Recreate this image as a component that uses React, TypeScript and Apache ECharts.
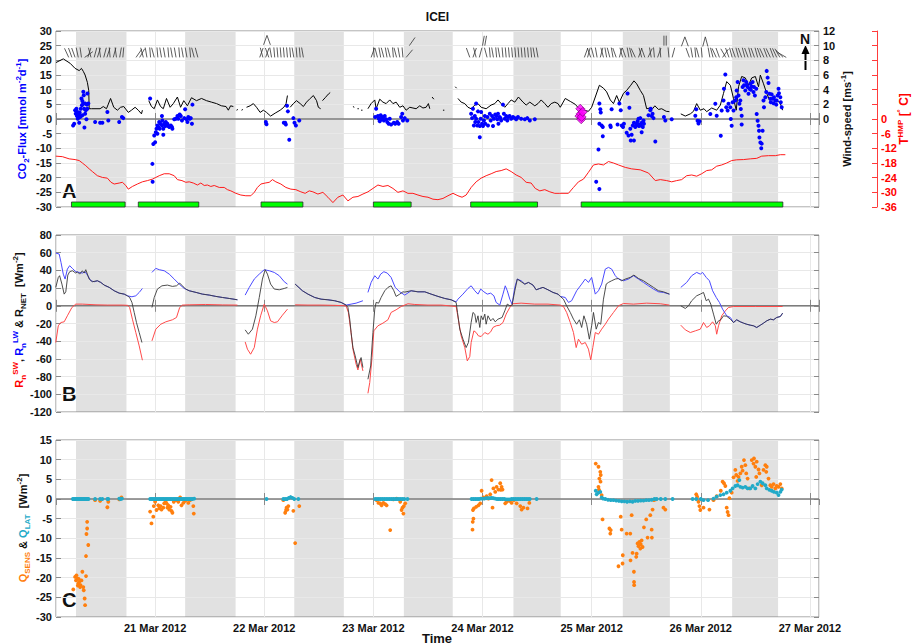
import React, { useEffect, useRef } from 'react';
import * as echarts from 'echarts';

// ---------- time base (hours since 20 Mar 2012 00:00 UTC) ----------
const HOUR_MS = 3600000;
const BASE_MS = Date.UTC(2012, 2, 20, 0, 0, 0);
const X_START_H = 2.2;
const X_END_H = 170.0;
const MONTHS = ['Jan', 'Feb', 'Mar', 'Apr', 'May', 'Jun', 'Jul', 'Aug', 'Sep', 'Oct', 'Nov', 'Dec'];

// grey day-time bands [start h, end h]
const DAY_BANDS = [[6.6, 17.7], [30.6, 41.7], [54.6, 65.5], [78.7, 89.45], [102.8, 113.2], [126.85, 137.2], [150.9, 161.0]];
// green measurement periods [start h, end h]
const GREEN_PERIODS = [[5.6, 17.4], [20.3, 33.6], [47.3, 56.5], [72.0, 80.3], [93.4, 108.1], [117.7, 162.05]];
const GREEN_TOP = -28.3;
const GREEN_BOTTOM = -30;

// wind direction sticks [h, angle deg (0 = up), base value on CO2 axis]
const WIND_DIR = [
  [5.0, -25, 21], [5.7, -20, 21], [6.4, -20, 21], [7.1, -12, 21], [7.8, -8, 21], [8.5, 55, 21], [9.2, 18, 21], [9.9, -15, 21], [10.6, 15, 21], [11.3, 18, 21], [12.0, -8, 21], [12.7, 15, 21], [13.4, 18, 21], [14.1, -5, 21], [14.8, 15, 21], [15.5, -8, 21], [16.2, 10, 21], [16.9, 5, 21],
  [19.8, 35, 21], [20.6, 30, 21], [21.4, -15, 21], [22.2, -10, 21], [23.0, -5, 21], [23.8, -15, 21], [24.6, -5, 21], [25.4, -10, 21], [26.2, -10, 21], [27.0, -5, 21], [27.8, -10, 21], [28.6, -10, 21], [29.4, -5, 21], [30.2, -10, 21], [31.0, -10, 21], [31.8, -5, 21], [32.6, -15, 21], [33.4, -15, 21],
  [47.0, 20, 21], [47.7, -15, 21], [48.6, 160, 28.5], [48.6, -160, 28.5], [48.3, 20, 21], [49.0, -20, 21], [49.6, -10, 21], [50.3, -5, 21], [51.0, -5, 21], [51.7, -5, 21], [52.4, -5, 21], [53.1, -5, 21], [53.8, -5, 21], [54.5, -10, 21], [55.2, -5, 21], [55.9, -5, 21], [56.6, -10, 21],
  [71.5, 20, 21], [72.2, -5, 21], [72.9, -15, 21], [73.6, -10, 21], [74.3, -15, 21], [75.0, -10, 21], [75.7, -15, 21], [76.4, -5, 21], [77.1, -15, 21], [77.8, -10, 21], [78.5, -5, 21], [79.2, 40, 21], [79.9, 35, 25],
  [93.2, -20, 21], [93.9, 20, 21], [94.6, -15, 21], [95.3, 15, 21], [96.0, 10, 25], [96.5, 10, 25], [97.0, -15, 21], [97.7, -5, 21], [98.4, -10, 21], [99.1, -5, 21], [99.8, -10, 21], [100.5, -5, 21], [101.2, -5, 21], [101.9, -5, 21], [102.6, -5, 21], [103.3, -5, 21], [104.0, -5, 21], [104.7, -5, 21], [105.4, -5, 21], [106.1, -5, 21], [106.8, -5, 21], [107.5, -10, 21], [108.2, -10, 21],
  [118.4, 20, 21], [119.1, 15, 21], [119.8, -20, 21], [120.5, -15, 21], [121.2, -10, 21], [121.9, 15, 21], [122.6, -15, 21], [123.3, -10, 21], [124.0, -15, 21], [124.7, -10, 21], [125.4, -20, 21], [126.1, 15, 21], [126.8, -15, 21], [127.5, -20, 21], [128.2, -10, 21], [128.9, -15, 21], [129.6, -25, 21], [130.3, 20, 21], [131.0, -15, 21], [131.7, -20, 21], [132.4, 25, 21], [133.1, -10, 21], [133.8, -5, 21], [134.5, 20, 21], [135.2, -5, 21], [135.9, 0, 25], [136.4, 0, 25], [137.0, -5, 21], [137.7, 15, 21],
  [140.5, 160, 28], [140.5, -160, 28], [141.5, -20, 21], [142.2, -10, 21], [142.9, -5, 21], [143.6, -15, 21], [144.3, -5, 21], [145.0, 165, 28], [145.0, -165, 28], [146.0, -10, 21], [146.7, -15, 21], [147.4, -25, 21], [148.1, -20, 21], [148.8, 35, 21], [149.5, -30, 21], [150.2, -20, 21], [150.9, -15, 21], [151.6, -20, 21], [152.3, -15, 21], [153.0, -20, 21], [153.7, -15, 21], [154.4, -20, 21], [155.1, -15, 21], [155.8, -20, 21], [156.5, -15, 21], [157.2, -20, 21], [157.9, -25, 21], [158.6, -20, 21], [159.3, -25, 21], [160.0, -20, 21], [160.7, -25, 21], [161.4, -30, 21], [162.1, -45, 21], [162.8, -60, 21],
];

// wind speed [h, m/s] (null = gap)
const WIND_SPEED = [
  [2.2, 7.7], [3.8, 8.2], [5.3, 7.6], [6.4, 6.9], [7.3, 6.6], [7.8, 6.9], [8.2, 6.5], [8.6, 6.0], [9.1, 5.0], [9.4, 3.9], [9.5, 1.4], [10.0, 1.4], [11.9, 1.4], [12.6, 1.7], [13.3, 1.4], [14.2, 2.8], [14.9, 1.6], [15.7, 1.2], [16.4, 1.6], [17.1, 1.7], [18.1, 0.9], [18.8, 1.2], [19.6, 1.6], [20.3, 1.2], [21.0, 0.7], [21.2, 1.2],
  [21.9, null],
  [22.6, 2.5], [23.2, 1.7], [23.8, 1.4], [24.5, 2.6], [25.2, 1.7], [25.8, 1.4], [26.5, 2.8], [27.3, 1.6], [28.0, 2.1], [28.9, 3.0], [29.6, 1.6], [30.3, 2.5], [31.1, 1.8], [32.0, 2.9], [33.1, 2.5], [34.2, 2.8], [35.3, 2.5], [36.4, 2.3], [37.5, 2.1], [38.6, 1.8], [39.6, 1.7], [40.1, 1.2], [40.6, 1.8], [41.2, 1.7],
  [41.5, null], [41.9, 1.2], [42.2, 1.3], [42.6, null], [43.0, 1.2], [43.3, 1.3], [43.7, null],
  [44.1, 1.6], [44.9, 1.8], [45.6, 2.1], [46.3, 1.6], [47.1, 0.9], [47.8, 1.2], [48.5, 0.9], [49.4, 0.4], [50.4, 0.8], [51.5, 1.2], [52.3, 1.6], [52.8, 2.1], [53.1, 3.2],
  [53.4, null],
  [53.7, 1.6], [54.4, 2.1], [55.1, 2.5], [55.9, 2.1], [56.6, 1.7], [57.3, 2.3], [58.1, 2.8], [58.8, 3.2], [59.5, 2.5], [59.9, 1.6], [60.4, 1.4],
  [60.6, null],
  [60.8, 2.5], [61.4, 2.9], [62.1, 3.4], [62.5, 3.6],
  [65.0, null], [67.5, 1.7], [67.8, 1.6], [68.1, null], [68.5, 1.4], [68.8, 1.4], [69.0, null], [69.3, 1.2], [69.6, 1.2], [70.2, null],
  [70.8, 1.4], [71.5, 2.1], [72.3, 2.6], [72.6, 1.4], [73.4, 2.7], [74.1, 2.3], [74.8, 2.1], [75.6, 2.6], [76.3, 2.1], [77.0, 2.3], [77.8, 1.6], [78.5, 1.8], [79.2, 1.2], [80.0, 1.6], [80.7, 1.5], [81.4, 1.4], [82.2, 1.8], [82.9, 1.5], [83.6, 1.6], [84.1, 2.1], [84.4, 1.4],
  [84.6, null], [84.9, 3.0], [85.3, 2.7], [85.6, null], [87.3, 1.2], [87.6, 1.2], [87.8, null], [90.0, 4.4], [90.3, 4.2], [90.4, null],
  [90.6, 2.8], [91.3, 2.3], [92.1, 2.1], [92.8, 1.6], [93.5, 1.4], [94.3, 1.9], [95.0, 2.1], [95.7, 1.6], [96.8, 1.4], [97.9, 1.9], [98.7, 2.1], [99.4, 2.6], [100.1, 2.1], [100.9, 1.6], [101.6, 2.1], [102.3, 2.6], [103.1, 2.3], [103.9, 3.0], [104.9, 2.3], [105.6, 1.9], [106.4, 2.3], [107.5, 1.8], [108.2, 2.1], [108.9, 2.6], [109.7, 2.1], [110.4, 1.6], [111.1, 2.1], [111.9, 2.3], [112.6, 2.1],
  [113.1, 1.6], [114.2, 2.8], [115.3, 2.4], [116.4, 2.0], [117.1, 1.5], [118.2, 1.2], [119.3, 1.05], [120.0, 1.6], [120.8, 3.0], [121.7, 4.6], [122.6, 4.2], [123.3, 3.7], [124.1, 2.6], [124.8, 2.1], [125.5, 3.2], [126.1, 2.3], [127.0, 3.5], [127.7, 3.9], [128.6, 4.6], [129.3, 5.2], [129.9, 4.8], [130.7, 3.9], [131.4, 3.2], [132.1, 1.4], [132.9, 1.5], [133.4, 1.4], [133.9, 1.8], [134.7, 1.3], [135.4, 1.4], [136.4, 1.05], [137.1, 1.0],
  [138.3, null],
  [139.6, 0.7], [140.6, 0.4], [141.7, 0.7], [142.4, 1.05], [143.1, 2.1], [143.9, 1.2], [144.7, 1.4], [145.3, 1.0], [146.4, 1.5], [147.5, 1.2], [148.3, 1.9], [149.0, 3.5], [149.7, 5.1], [150.5, 4.6], [151.2, 2.8], [151.8, 1.2], [152.3, 4.4], [153.0, 5.8], [153.8, 5.6], [154.5, 4.6], [155.2, 5.6], [156.0, 5.8], [156.7, 4.4], [157.1, 6.0], [157.8, 4.8], [158.5, 3.5], [159.1, 2.6], [160.0, 2.8], [160.7, 2.6], [161.5, 2.1], [162.0, 1.2],
];

// air temperature T_HMP [h, deg C]
const TEMP = [
  [2.15, -15.2], [3.6, -15.4], [5.1, -16.3], [6.4, -16.6], [7.3, -17.0], [8.0, -18.0], [8.75, -19.1], [9.5, -20.4], [10.2, -21.5], [11.3, -23.2], [12.4, -23.9], [13.5, -24.2], [14.3, -25.9], [15.0, -26.6], [16.1, -26.2], [16.8, -25.9], [17.55, -27.2], [18.1, -28.7], [19.0, -27.6], [20.1, -26.6], [21.2, -25.7], [22.3, -25.2], [23.4, -24.6], [24.15, -23.9], [24.9, -23.2], [26.0, -22.4], [27.1, -22.4], [28.2, -23.2], [28.9, -24.8], [29.9, -25.2], [30.75, -25.9], [31.5, -25.7], [32.4, -26.2], [33.3, -27.0], [34.05, -26.2], [34.8, -27.2], [35.5, -27.0], [36.25, -27.6], [37.0, -27.2], [38.1, -28.0], [39.2, -28.0], [39.9, -28.9], [40.65, -29.4], [41.75, -30.4], [42.85, -31.1], [43.95, -31.4], [45.05, -31.4], [45.8, -30.0], [46.5, -28.0], [47.25, -26.6], [48.2, -26.2], [49.1, -25.9], [49.8, -24.8], [50.55, -25.7], [51.65, -26.6], [52.75, -28.0], [53.85, -28.7], [54.95, -28.9], [56.05, -29.8], [57.0, -30.4], [57.9, -29.4], [58.7, -29.8], [59.8, -30.7], [60.9, -30.0], [62.0, -32.0], [63.1, -34.2], [64.2, -32.0], [65.3, -31.1], [66.4, -33.5], [67.5, -32.0], [68.6, -31.7], [69.7, -30.7], [70.8, -29.8], [71.9, -28.4], [73.0, -27.0], [74.1, -27.6], [75.2, -27.2], [76.3, -28.4], [77.4, -30.0], [78.5, -29.4], [79.6, -30.4], [80.7, -30.4], [81.8, -31.1], [82.9, -31.7], [84.0, -32.0], [85.1, -32.8], [86.2, -33.0], [87.3, -32.5], [88.4, -31.4], [89.5, -30.4], [90.6, -31.4], [91.5, -32.0], [92.4, -31.1], [93.5, -28.0], [94.6, -25.7], [95.7, -24.2], [96.8, -23.2], [97.9, -22.4], [99.0, -21.5], [100.1, -21.1], [101.2, -20.4], [102.3, -21.5], [103.4, -22.9], [104.5, -23.9], [105.6, -25.9], [106.7, -26.2], [107.6, -28.4], [108.6, -29.4], [109.7, -28.9], [110.8, -29.8], [111.9, -30.4], [113.0, -30.4], [114.9, -30.4], [116.0, -28.0], [117.1, -25.7], [118.2, -24.6], [119.3, -21.8], [120.4, -18.8], [121.5, -18.4], [122.6, -18.8], [123.7, -17.4], [124.8, -18.0], [125.9, -18.8], [127.4, -19.8], [128.8, -20.4], [130.7, -20.8], [132.5, -22.1], [134.0, -25.2], [135.1, -24.8], [136.5, -25.2], [137.6, -25.7], [138.7, -25.2], [139.8, -24.8], [140.9, -23.2], [142.0, -22.9], [143.1, -23.4], [144.2, -22.4], [145.3, -21.1], [146.4, -20.8], [147.5, -19.3], [148.6, -18.8], [149.7, -18.0], [150.8, -17.0], [151.9, -16.7], [153.4, -16.6], [154.9, -16.3], [156.3, -16.1], [157.4, -15.2], [158.9, -15.0], [160.4, -15.0], [161.5, -14.6], [162.6, -14.6],
];

// CO2 flux [h, mmol m-2 d-1]
const CO2_FLUX = [
  [5.96, -2.2], [6.2, -1.6], [6.4, 3.0], [6.55, 1.8], [6.7, 3.5], [6.8, 1.0], [6.9, 2.4], [7.0, 0.1], [7.1, 1.5], [7.3, 0.7], [7.3, -1.3], [7.4, 2.2], [7.5, 0.7], [7.65, 3.5], [7.7, 1.0], [7.8, 7.0], [7.9, 4.7], [8.0, 6.1], [8.0, 1.3], [8.2, 9.3], [8.2, 5.3], [8.3, 8.1], [8.4, 3.5], [8.45, -2.9], [8.6, 5.3], [8.6, 1.8], [8.75, 3.0], [8.9, -0.1], [9.0, 4.9], [9.1, 8.7], [9.1, 3.5], [9.3, 5.3],
  [10.8, -1.0], [11.9, -1.3], [12.4, -1.3], [13.5, 2.4], [13.7, -0.5], [16.1, -1.0], [16.7, 0.7], [17.0, 0.3],
  [22.9, 7.0], [23.4, -15.3], [23.45, -21.4], [23.6, -8.5], [23.8, -5.6], [24.0, -7.9], [24.15, -4.5], [24.3, -3.3], [24.5, -2.2], [24.5, -5.0], [24.7, -2.7], [24.9, -1.0], [25.0, -3.3], [25.2, -1.6], [25.5, 1.0], [25.5, -2.2], [25.6, -0.5], [25.8, -3.3], [25.8, -5.4], [26.0, -1.6], [26.2, -2.4], [26.35, -1.0], [26.5, -2.2], [26.7, -1.6], [26.9, -2.4], [27.1, -2.7], [27.45, -2.2], [27.7, -2.7], [27.8, -3.3], [28.2, -0.1], [28.55, 0.1], [28.9, 1.0], [29.1, 0.1], [29.4, 1.5], [29.65, 1.0], [29.9, -0.5], [30.4, 0.3], [30.6, 3.3], [30.9, -0.1], [31.1, -1.0], [31.3, 0.7], [31.6, 0.1], [31.85, 0.3], [32.1, -1.6], [32.2, 4.9],
  [48.35, -1.0], [48.5, -1.8], [52.3, -1.3], [52.6, -1.3], [52.75, -1.9], [53.0, 4.5], [53.2, 2.6], [53.5, -7.1], [54.4, 0.3], [54.65, -1.3], [54.95, -2.2], [55.7, -0.5],
  [72.4, 0.7], [72.6, 3.5], [73.0, 1.0], [73.2, 0.1], [73.4, -0.8], [73.6, 1.3], [73.7, -0.1], [73.9, 0.7], [74.1, 0.3], [74.3, -0.5], [74.5, 1.0], [74.8, -0.1], [75.05, -1.0], [75.35, -1.6], [75.6, 0.1], [75.9, -1.9], [76.5, -1.3], [76.8, -1.6], [77.25, -1.0], [77.55, -1.6], [78.1, 0.7], [78.35, 1.8], [78.5, -0.5], [78.9, 0.3], [79.45, -0.5],
  [93.5, 1.8], [93.7, 0.3], [93.9, 3.5], [94.1, -2.2], [94.3, 1.0], [94.4, -1.0], [94.6, 5.3], [94.6, 0.1], [94.85, -2.2], [95.0, 2.6], [95.1, -1.0], [95.4, -6.2], [95.4, -2.4], [95.6, 0.1], [95.7, 2.4], [95.9, -1.6], [96.1, -2.4], [96.3, -0.5], [96.5, 1.0], [96.6, -1.6], [97.1, 0.7], [97.2, -2.2], [97.6, 1.8], [97.8, -0.5], [98.1, 1.0], [98.3, -2.4], [98.5, 0.1], [98.8, 1.5], [99.0, 1.0], [99.25, -0.1], [99.4, 1.8], [99.5, -1.6], [99.75, 0.7], [99.95, 0.3], [100.1, -0.5], [100.5, 4.9], [100.7, 1.8], [100.9, 0.1], [101.2, 1.0], [101.45, -0.5], [101.6, 0.7], [101.95, 1.0], [102.3, 0.1], [102.7, 0.7], [103.1, 0.3], [103.4, -0.1], [103.8, 0.7], [104.5, 0.1], [105.3, -0.1], [105.85, 0.3], [106.4, -0.5], [107.5, -0.1],
  [121.0, -21.4], [121.7, -23.9], [121.5, -10.4], [121.7, 5.3], [121.9, 3.3], [122.0, 2.2], [121.7, -1.6], [122.2, -2.2], [122.45, -2.7], [122.45, -5.9], [124.1, -2.2], [124.2, -2.7], [124.4, 3.3], [125.7, -1.9], [126.1, 5.3], [126.4, 3.0], [126.6, -2.2], [126.9, -2.7], [127.1, -1.6], [127.7, -4.7], [127.9, 8.7], [128.1, -5.6], [128.3, 3.8], [128.5, -3.3], [128.6, -7.3], [128.8, -5.4], [129.05, -2.2], [129.3, -7.3], [129.3, -1.3], [129.6, -2.7], [129.8, -2.2], [129.9, -1.6], [130.1, -0.8], [130.3, 0.1], [130.4, -2.4], [130.5, -1.9], [130.7, 0.3], [130.8, -2.2], [131.0, -4.5], [131.0, -1.3], [131.25, -2.7], [131.4, -0.5], [131.5, -1.6], [132.5, 1.3], [132.9, 3.0], [133.0, 3.5], [133.2, 1.0], [133.4, 1.8], [133.6, 0.3], [134.0, -7.7], [135.9, 0.7], [136.2, -0.5], [137.6, -0.1],
  [142.8, 1.1], [143.0, 3.3], [143.3, -0.6], [143.5, -1.5], [143.7, -0.8], [146.1, 1.7], [147.2, 5.2], [147.5, 1.1], [148.4, -5.7], [148.6, 2.9], [149.0, 6.3], [149.1, 10.3], [149.4, 15.2], [149.6, 4.0], [149.9, 2.9], [150.1, 5.2], [150.5, 4.0], [150.6, 0.0], [150.8, -2.3], [151.0, 5.7], [151.2, 2.9], [151.6, 6.3], [151.8, 7.4], [151.9, 9.7], [152.1, 12.6], [152.3, 8.0], [152.5, 5.2], [152.7, 6.3], [152.8, 3.4], [153.0, 1.1], [153.0, -1.9], [153.2, 10.9], [153.4, 13.2], [153.5, 11.5], [153.8, 9.7], [154.0, 12.6], [154.1, 11.5], [154.3, 10.9], [154.5, 8.6], [154.7, 10.3], [154.9, 12.0], [155.0, 10.0], [155.2, 11.1], [155.4, 12.6], [155.6, 9.2], [155.7, 10.9], [155.9, 8.0], [156.2, 10.3], [156.3, 1.7], [156.5, -0.6], [156.7, -2.3], [156.8, -4.0], [156.9, -6.3], [157.1, -8.0], [157.3, -10.0], [157.4, -8.4], [157.6, -4.0], [157.8, 6.3], [157.9, 4.0], [158.2, 7.4], [158.4, 9.2], [158.5, 16.4], [158.7, 14.1], [158.9, 12.3], [159.1, 8.6], [159.3, 6.9], [159.4, 5.7], [159.6, 8.4], [159.8, 6.9], [160.0, 5.4], [160.1, 7.4], [160.4, 6.3], [160.6, 4.9], [160.7, 6.3], [160.9, 8.0], [161.1, 10.3], [161.2, 8.8], [161.5, 7.4], [161.6, 5.7], [161.8, 4.0],
];

// magenta diamonds (CO2 flux, flagged)
const CO2_FLAGGED = [[117.3, 1.0], [117.5, 3.5], [117.6, 1.8], [117.7, -0.1], [117.8, 0.7], [118.05, 2.4]];

// net shortwave radiation R_n^SW [h, W m-2]
const R_SW = [
  [2.15, -41.5], [2.7, -22.6], [3.25, -18.9], [4.0, -18.1], [4.7, -11.3], [5.7, -1.9], [6.55, 1.9], [8.0, 1.9], [11.0, 1.1], [13.5, 0.8], [16.8, 0.8], [18.0, 0.5], [18.4, -1.9], [19.0, -15.1], [19.75, -30.2], [20.5, -45.3], [21.2, -61.5],
  [22.2, null],
  [23.3, -39.6], [24.15, -26.4], [25.25, -20.8], [26.35, -18.1], [27.8, -15.8], [28.7, -13.2], [29.4, -1.9], [30.0, 0.8], [31.5, 1.1], [35.1, 1.5], [38.8, 1.0], [42.1, 0.8],
  [43.0, null],
  [43.8, -40.8], [44.3, -49.0], [45.0, -54.7], [45.8, -47.2], [46.5, -26.4], [47.2, -11.3], [48.0, 1.9], [48.7, -5.7], [49.4, -17.0], [50.2, -18.9], [50.9, -18.1], [52.0, -10.6], [53.1, -3.8],
  [54.0, null],
  [54.8, 1.1], [57.6, 0.8], [60.5, 0.8], [63.5, 0.5], [66.0, 0], [66.5, -7.5], [67.0, -26.4], [67.5, -49.0], [68.2, -66.0], [68.6, -72.5], [69.1, -60.4], [69.7, -73.6],
  [70.3, null],
  [70.8, -98.9], [71.2, -86.8], [71.7, -58.5], [72.1, -28.3], [73.0, -22.6], [74.1, -19.6], [75.2, -15.8], [75.9, -7.5], [77.0, -4.5], [78.1, -0.8], [79.6, 2.3], [81.1, 1.5], [84.0, 0.8], [87.0, 0.8], [90.2, -0.8], [90.7, -15.8], [91.3, -34.0], [92.1, -47.2], [92.65, -62.3], [93.2, -57.4], [93.5, -41.5], [94.1, -28.3], [94.6, -30.2], [95.1, -34.0], [95.7, -34.7], [96.5, -30.2], [97.2, -32.1], [97.8, -29.4], [98.3, -24.5], [99.0, -22.6], [99.8, -21.9], [100.5, -18.9], [101.2, -9.4], [102.0, -1.9], [102.7, 2.3], [104.5, 3.0], [107.5, 1.9], [110.4, 1.9], [113.1, 0.8], [113.8, -0.8], [114.5, -7.5], [115.3, -18.9], [116.0, -30.2], [116.6, -47.2], [117.1, -37.7], [117.8, -43.4], [118.6, -41.5], [119.3, -49.0], [119.8, -61.1], [120.25, -47.2], [120.8, -30.2], [121.5, -32.1], [122.2, -26.4], [123.0, -20.8], [123.7, -15.1], [124.8, -7.5], [125.9, 0], [127.0, 2.6], [129.2, 1.9], [132.1, 3.0], [135.1, 2.3], [137.1, 0.8],
  [138.3, null],
  [139.6, -21.9], [140.6, -27.2], [141.7, -30.2], [142.8, -28.3], [143.9, -26.4], [144.6, -18.9], [145.3, -24.5], [145.9, -22.6], [146.6, -18.1], [147.2, -22.6], [147.5, -32.1], [147.9, -22.6], [148.6, -11.3], [149.4, -5.7], [150.1, -1.9], [151.2, -0.8], [156.0, -0.8], [162.0, -0.8],
];

// net longwave radiation R_n^LW [h, W m-2]
const R_LW = [
  [2.15, 59.6], [2.9, 58.5], [3.3, 49.0], [3.8, 35.8], [4.2, 30.2], [4.7, 41.5], [5.2, 45.3], [5.8, 42.3], [6.55, 38.5], [7.3, 37.7], [8.0, 37.0], [8.6, 38.5], [9.1, 34.7], [9.85, 28.3], [10.6, 27.2], [11.3, 28.3], [12.05, 26.4], [12.8, 23.4], [13.9, 20.8], [15.0, 17.0], [16.1, 14.3], [17.2, 13.2], [17.9, 11.3], [18.9, 10.2], [19.75, 11.3], [20.5, 15.1], [21.2, 19.6],
  [22.2, null],
  [23.3, 37.7], [24.15, 42.3], [24.9, 40.8], [26.0, 39.6], [27.1, 35.8], [28.2, 30.2], [29.3, 24.5], [30.4, 19.6], [31.5, 17.0], [33.0, 15.1], [34.4, 13.2], [35.9, 12.1], [37.35, 10.6], [38.8, 9.4], [40.3, 8.3], [42.1, 6.8],
  [43.0, null],
  [43.8, 12.1], [44.7, 20.8], [45.8, 30.2], [46.9, 35.8], [48.0, 40.8], [49.1, 39.6], [50.2, 37.7], [51.3, 34.0], [52.4, 27.2], [53.1, 24.5],
  [54.0, null],
  [54.8, 24.5], [56.4, 17.0], [57.6, 13.2], [59.1, 9.4], [60.5, 7.5], [62.0, 6.8], [63.5, 5.7], [64.9, 3.8], [66.0, 0.8], [67.1, 1.9], [68.2, 3.0], [69.7, 5.7],
  [70.3, null],
  [70.8, 15.1], [71.5, 26.4], [72.3, 34.0], [73.0, 30.2], [73.6, 35.8], [74.3, 38.5], [75.05, 37.0], [75.9, 32.1], [76.8, 20.8], [77.8, 15.8], [78.9, 12.1], [80.3, 17.0], [81.8, 15.8], [83.3, 15.8], [84.7, 13.2], [86.2, 10.6], [87.7, 8.3], [89.1, 6.8], [90.2, 4.5], [90.6, 7.5], [91.7, 13.2], [92.8, 19.6], [93.5, 22.6], [94.3, 17.0], [95.0, 13.2], [95.6, 18.9], [96.3, 15.8], [97.05, 13.2], [97.8, 14.3], [98.5, 11.3], [99.0, 3.8], [99.8, 0.8], [100.5, 13.2], [101.0, 22.6], [101.45, 17.0], [102.0, 7.5], [102.5, 1.9], [103.1, 20.8], [103.65, 30.2], [104.5, 28.3], [105.3, 24.5], [106.1, 26.4], [107.1, 23.4], [107.8, 18.1], [108.6, 19.6], [109.3, 20.8], [110.4, 18.1], [111.5, 15.1], [112.6, 13.2], [113.1, 10.6], [114.2, 9.4], [114.9, 3.8], [115.6, 5.7], [116.7, 17.0], [117.8, 24.5], [118.6, 30.2], [119.3, 26.4], [120.0, 32.1], [120.8, 13.2], [121.5, 17.0], [122.2, 24.5], [123.0, 41.5], [123.7, 43.4], [124.4, 41.5], [125.2, 34.0], [125.9, 30.2], [127.0, 28.3], [128.1, 30.2], [129.2, 34.0], [130.3, 30.2], [131.4, 26.4], [132.5, 22.6], [133.6, 18.9], [134.7, 15.8], [135.8, 15.1], [137.1, 13.2],
  [138.3, null],
  [139.6, 20.8], [140.9, 26.4], [142.0, 34.0], [143.1, 37.7], [143.9, 35.8], [144.4, 37.7], [145.2, 32.1], [145.9, 28.3], [146.6, 17.0], [147.4, 9.4], [148.1, 3.8], [148.8, -3.8], [149.7, -11.3], [150.5, -13.2], [151.2, -18.9], [151.9, -15.8], [152.7, -18.1], [153.4, -19.6], [154.1, -20.8], [154.9, -21.9], [155.6, -22.6], [156.3, -24.5], [157.1, -21.9], [157.8, -19.6], [158.5, -17.0], [159.3, -15.1], [160.0, -15.8], [160.7, -13.2], [161.5, -12.1], [162.0, -8.3],
];

// net radiation R_NET [h, W m-2]
const R_NET = [
  [2.15, 20.8], [2.7, 32.0], [3.0, 34.0], [3.5, 24.5], [4.0, 13.2], [4.35, 15.8], [4.8, 34.7], [5.2, 38.5], [5.8, 39.6], [6.55, 37.0], [6.9, 38.5], [7.4, 35.8], [8.0, 39.6], [8.4, 37.0], [8.75, 40.8], [9.5, 30.2], [10.2, 27.2], [11.3, 28.3], [12.05, 26.4], [12.8, 23.4], [13.9, 20.8], [15.0, 17.0], [16.1, 14.3], [17.2, 13.2], [17.9, 11.3], [18.4, 9.4], [18.9, 3.8], [19.4, -7.5], [19.9, -18.9], [20.5, -30.2], [21.1, -41.5],
  [22.2, null],
  [23.3, -1.9], [23.8, 9.4], [24.5, 18.9], [25.5, 22.6], [26.7, 23.4], [27.8, 21.9], [28.7, 22.6], [29.4, 25.7], [30.0, 22.6], [30.7, 19.0], [31.5, 17.0], [33.0, 15.1], [34.4, 13.2], [35.9, 12.1], [37.35, 10.6], [38.8, 9.4], [40.3, 8.3], [42.1, 6.8],
  [43.0, null],
  [43.8, -27.2], [44.5, -32.1], [45.4, -26.4], [46.15, -11.3], [46.9, 9.4], [47.6, 30.2], [48.2, 40.8], [48.7, 35.8], [49.4, 24.5], [50.2, 18.9], [51.3, 18.1], [52.4, 19.6], [53.1, 20.8],
  [54.0, null],
  [54.8, 24.5], [56.4, 17.0], [57.6, 13.2], [59.1, 9.4], [60.5, 7.5], [62.0, 6.8], [63.5, 5.7], [64.9, 3.8], [66.0, 0.8], [66.4, -1.9], [66.8, -15.1], [67.1, -30.2], [67.5, -47.2], [68.0, -56.6], [68.6, -69.8], [69.0, -62.3], [69.3, -58.5], [69.7, -69.8],
  [70.3, null],
  [70.8, -83.0], [71.4, -68.0], [71.9, -30.2], [72.3, -3.8], [72.6, 3.8], [73.15, 3.0], [73.7, 9.4], [74.5, 17.0], [75.2, 20.8], [75.9, 22.6], [76.5, 17.0], [77.0, 10.6], [77.8, 13.2], [78.5, 15.8], [78.9, 15.5], [80.3, 17.0], [81.8, 15.8], [83.3, 15.8], [84.7, 13.2], [86.2, 10.6], [87.7, 8.3], [89.1, 6.8], [90.2, 3.8], [90.5, -7.5], [91.0, -26.4], [91.7, -37.7], [92.4, -47.2], [92.9, -41.5], [93.5, -18.9], [93.9, -7.5], [94.3, -9.4], [94.6, -18.9], [95.0, -11.3], [95.4, -24.5], [95.7, -11.3], [96.1, -15.8], [96.5, -9.4], [96.8, -20.8], [97.2, -11.3], [97.8, -17.0], [98.3, -14.3], [98.8, -18.1], [99.4, -15.1], [100.3, -13.2], [100.9, -5.7], [101.45, 1.9], [102.0, 0], [102.5, 0.8], [103.1, 17.0], [103.65, 30.2], [104.5, 27.2], [105.3, 24.5], [106.1, 26.4], [107.1, 23.4], [107.8, 18.1], [108.6, 19.6], [109.3, 20.8], [110.4, 18.1], [111.5, 15.1], [112.6, 13.2], [113.1, 10.6], [113.8, 7.5], [114.5, 0], [115.3, -7.5], [116.0, -15.1], [116.7, -20.8], [117.3, -15.8], [117.8, -24.5], [118.3, -11.3], [118.9, -20.8], [119.5, -37.7], [120.0, -22.6], [120.4, -7.5], [121.0, -26.4], [121.5, -18.9], [122.0, -20.8], [122.6, 7.5], [123.2, 24.5], [123.7, 26.4], [124.4, 28.3], [125.2, 30.2], [125.9, 30.9], [126.6, 28.3], [127.4, 30.2], [128.5, 32.1], [129.3, 34.7], [130.3, 30.9], [131.4, 28.3], [132.5, 24.5], [133.6, 20.8], [134.7, 17.0], [135.8, 15.8], [137.1, 13.2],
  [138.3, null],
  [139.6, 0], [140.6, -3.0], [141.3, 0], [142.0, 5.7], [143.1, 11.3], [143.9, 13.2], [144.6, 15.1], [145.2, 5.7], [145.7, 7.5], [146.2, 1.9], [146.8, -9.4], [147.4, -20.8], [147.9, -17.0], [148.4, -15.8], [149.0, -11.3], [149.7, -11.8], [150.5, -15.1], [151.2, -18.9], [151.9, -15.8], [152.7, -18.1], [153.4, -19.6], [154.1, -20.8], [154.9, -21.9], [155.6, -22.6], [156.3, -24.5], [157.1, -21.9], [157.8, -19.6], [158.5, -17.0], [159.3, -15.1], [160.0, -15.8], [160.7, -13.2], [161.5, -12.1], [162.0, -8.3],
];

// sensible heat flux Q_SENS [h, W m-2]
const Q_SENS = [
  [6.0, -23.0], [6.4, -19.8], [6.6, -20.7], [6.7, -19.4], [6.9, -20.2], [7.0, -22.0], [7.1, -21.5], [7.2, -20.3], [7.3, -21.1], [7.5, -22.4], [7.6, -21.9], [7.8, -20.7], [8.0, -18.5], [8.2, -22.4], [8.3, -23.2], [8.5, -25.3], [8.6, -27.0], [8.8, -19.6], [8.8, -14.5], [8.9, -8.9], [9.05, -7.5], [9.05, -5.8], [9.3, -11.7],
  [10.8, -0.3], [11.9, -0.5], [13.5, -2.1], [13.7, -0.7], [16.1, -0.1], [16.6, 0.4],
  [22.9, -3.2], [23.2, -6.2], [23.6, -4.5], [23.7, -1.8], [24.0, -0.7], [24.3, -2.8], [24.7, -1.6], [24.9, -2.4], [25.2, -1.8], [25.4, -2.7], [25.8, -2.2], [26.0, -1.1], [26.3, -0.7], [26.5, -1.1], [26.7, -2.2], [26.9, -1.6], [27.1, -2.7], [27.4, -2.0], [27.6, -3.0], [27.8, -3.5], [28.1, -0.7], [28.6, -0.3], [29.1, -0.7], [29.5, 0.4], [29.8, -1.6], [30.2, -1.0], [30.6, -0.5], [30.9, -0.1], [31.3, -1.0], [31.7, -0.3], [32.4, -1.8], [32.5, -3.7],
  [52.2, -0.3], [52.6, -3.5], [52.8, -2.8], [52.9, -2.2], [53.1, -2.7], [53.3, -1.8], [54.4, -3.0], [54.8, -11.2], [55.7, -1.8],
  [72.7, -0.3], [73.1, -1.0], [73.5, -1.1], [73.8, -1.6], [74.2, -1.0], [74.6, -1.3], [74.9, -1.6], [75.7, -7.9], [76.4, -0.1], [77.1, 0.1], [77.9, -0.7], [78.2, -2.8], [78.4, -2.2], [78.6, -3.7], [78.7, -1.8], [79.0, -1.1],
  [93.8, -7.8], [93.85, -5.8], [94.0, -5.0], [93.9, -2.8], [94.1, -2.4], [94.6, -2.0], [95.1, -1.6], [95.5, -1.1], [95.8, 2.1], [96.2, 0.4], [96.9, 0.7], [97.3, 0.1], [97.7, 1.2], [98.0, 4.8], [98.2, -2.2], [98.4, 2.7], [98.8, 1.8], [99.1, 3.1], [99.5, 2.4], [99.9, 4.0], [100.0, 2.3], [100.2, 3.1], [100.4, 2.4], [101.0, -1.1], [101.3, -0.7], [101.9, -0.5], [102.4, -1.0], [102.9, -0.3], [103.5, -1.1], [104.3, -1.8], [104.6, -2.7], [105.0, -2.2], [105.9, -2.4], [106.3, -1.0],
  [120.9, 9.0], [121.5, 8.2], [121.9, 6.9], [122.0, 6.1], [121.7, 5.2], [121.95, 4.4], [121.5, 3.1], [121.6, 2.4], [122.2, 1.0], [122.4, -5.2], [123.9, -7.5], [124.1, -8.8], [124.2, -7.9], [125.9, -17.1], [126.4, -4.5], [126.6, -7.8], [126.8, -16.4], [126.85, -14.3], [127.7, -8.8], [128.5, -8.8], [128.55, -15.6], [128.8, -4.1], [129.0, -13.7], [129.3, -18.5], [129.32, -21.1], [129.35, -21.9], [129.8, -14.7], [129.9, -13.9], [130.1, -11.3], [130.3, -12.0], [130.5, -10.9], [130.7, -12.6], [130.8, -11.5], [131.0, -10.5], [131.2, -12.2], [131.5, -7.2], [132.0, -5.2], [132.3, -9.8], [132.9, -4.1], [133.2, -7.8], [133.25, -9.8], [133.4, -2.7], [133.7, -0.3], [134.1, -0.1], [135.8, -2.2], [136.2, -2.7],
  [143.0, 1.2], [143.2, 0.6], [143.5, -0.7], [143.7, -1.8], [143.9, -2.8], [144.6, -2.2], [145.9, -2.7], [146.8, -0.3], [147.5, 0.7], [148.4, 2.1], [148.8, 4.4], [149.1, 4.0], [149.4, 3.3], [149.7, -2.2], [149.9, -3.3], [150.1, -4.1], [150.3, 0.2], [150.8, 1.6], [151.2, 5.5], [151.6, 7.4], [151.8, 6.1], [152.1, 4.6], [152.3, 5.6], [152.7, 6.5], [153.0, 8.2], [153.2, 7.2], [153.5, 9.9], [153.8, 8.6], [154.0, 6.5], [154.3, 5.2], [154.7, 2.7], [155.2, 9.9], [155.6, 9.0], [155.7, 10.3], [156.0, 8.2], [156.2, 5.6], [156.3, 9.5], [156.7, 7.5], [156.9, 6.5], [157.4, 3.5], [157.8, 7.4], [158.2, 8.6], [158.4, 6.9], [158.5, 8.2], [158.9, 5.2], [159.3, 3.5], [159.6, 3.1], [160.0, 3.8], [160.4, 2.7], [160.7, 3.3], [161.1, 3.1], [161.5, 3.8], [161.8, 2.7],
];

// latent heat flux Q_LAT [h, W m-2]
const Q_LAT = [
  [5.9, 0], [6.15, 0], [6.4, 0], [6.65, 0], [6.9, 0], [7.15, 0], [7.4, 0], [7.65, 0], [7.9, 0], [8.15, 0], [8.4, 0], [8.65, 0], [8.9, 0], [9.15, 0], [9.35, 0],
  [10.8, 0], [11.9, 0], [12.4, 0], [13.5, 0], [13.7, 0], [16.1, 0.1], [16.4, 0], [16.7, 0.1],
  [22.9, 0], [23.2, 0], [23.5, 0], [23.8, 0], [24.1, 0], [24.4, 0], [24.7, 0], [25.0, 0], [25.3, 0], [25.6, 0], [25.9, 0], [26.2, 0], [26.5, 0], [26.8, 0], [27.1, 0], [27.4, 0], [27.7, 0], [28.0, 0], [28.3, 0], [28.6, 0], [28.9, 0], [29.2, 0], [29.5, 0], [29.8, 0], [30.1, 0], [30.4, 0], [30.7, 0], [31.0, 0], [31.3, 0], [31.6, 0], [31.9, 0], [32.2, 0], [32.6, 0.1],
  [48.5, 0], [52.2, 0], [52.6, 0], [53.0, 0], [53.4, 0.3], [53.8, 0.5], [54.2, 0.3], [54.6, 0], [55.5, 0],
  [72.4, 0], [72.8, 0], [73.2, 0], [73.6, 0], [74.0, 0], [74.4, 0], [74.8, 0], [75.2, 0], [75.6, 0], [76.0, 0], [76.4, 0], [76.8, 0], [77.2, 0], [77.6, 0], [78.0, 0], [78.4, 0], [78.8, 0], [79.5, 0],
  [93.6, 0], [94.0, 0], [94.4, 0], [94.8, 0], [95.2, 0], [95.6, 0.1], [96.0, 0.1], [96.4, 0.1], [96.8, 0.2], [97.2, 0.2], [97.6, 0.2], [98.0, 0.3], [98.4, 0.2], [98.8, 0.1], [99.2, 0], [99.6, 0], [100.0, 0], [100.4, 0], [100.8, 0], [101.2, -0.1], [101.6, -0.1], [102.0, -0.1], [102.4, 0], [102.8, 0], [103.2, 0], [103.6, 0], [104.0, 0], [104.4, 0], [104.8, 0], [105.2, 0], [105.6, 0], [106.0, 0], [106.4, 0], [107.9, 0],
  [120.9, 2.1], [121.1, 1.2], [121.5, 1.6], [121.9, 1.8], [122.2, 0.4], [122.5, 0.1], [123.0, 0], [123.6, -0.2], [124.2, -0.3], [124.8, -0.3], [125.4, -0.4], [126.0, -0.5], [126.6, -0.6], [127.2, -0.6], [127.8, -0.7], [128.4, -0.6], [129.0, -0.7], [129.6, -0.5], [130.2, -0.5], [130.8, -0.4], [131.4, -0.4], [132.0, -0.3], [132.6, -0.3], [133.2, -0.2], [133.8, 0], [134.3, 0], [135.2, 0], [136.2, 0], [137.8, 0],
  [142.2, 0], [143.0, 0], [144.0, 0], [144.6, -0.3], [145.6, -0.3], [146.8, 0.1], [147.5, 0.6], [148.3, 1.0], [149.0, 1.2], [149.7, 1.6], [150.5, 2.1], [151.0, 2.7], [151.6, 3.3], [152.1, 3.5], [152.5, 4.8], [152.7, 3.1], [153.2, 2.9], [153.8, 3.1], [154.3, 2.7], [154.9, 2.7], [155.4, 3.3], [156.0, 2.7], [156.5, 3.8], [157.1, 4.4], [157.6, 4.0], [158.2, 3.5], [158.5, 2.7], [159.1, 2.3], [159.6, 2.1], [160.1, 1.8], [160.7, 1.6], [161.1, 1.0], [161.5, 1.8], [161.8, 2.4],
];

// ---------- helpers ----------
const FONT = "'Liberation Sans', Arial, Helvetica, sans-serif";
const GRID_LINE = '#e8e8e8';
const BAND_FILL = '#e1e1e1';
const BOX = '#8a8a8a';
const t = (h: number) => BASE_MS + h * HOUR_MS;
const pairs = (arr: any[]) => arr.map(([h, v]) => [t(h), v === null ? '-' : v]);

const dayLabel = (val: number) => {
  const d = new Date(val);
  if (d.getUTCHours() !== 0 || d.getUTCMinutes() !== 0) return '';
  return `${d.getUTCDate()} ${MONTHS[d.getUTCMonth()]} ${d.getUTCFullYear()}`;
};

const tickLabel = { fontFamily: FONT, fontWeight: 'bold', fontSize: 11, color: '#111' };

const rs = (color: string, size: number, va: string) => ({
  fill: color, color, fontSize: size, fontWeight: 'bold', fontFamily: FONT,
  lineHeight: size < 10 ? 8 : 16, verticalAlign: va,
});

const rotText = (x: number, y: number, text: string, rich: any) => ({
  type: 'text', x, y, rotation: Math.PI / 2, silent: true,
  style: { text, rich, textAlign: 'center', textVerticalAlign: 'middle', align: 'center', verticalAlign: 'middle' },
});

const plainText = (x: number, y: number, text: string, size: number, align = 'center') => ({
  type: 'text', x, y, silent: true,
  style: { text, fill: '#111', fontSize: size, fontWeight: 'bold', fontFamily: FONT, textAlign: align, textVerticalAlign: 'middle', align, verticalAlign: 'middle' },
});

function buildOption() {
  const xMin = t(X_START_H);
  const xMax = t(X_END_H);

  const xAxes: any[] = [];
  [0, 1, 2].forEach((g) => {
    xAxes.push({
      type: 'time', gridIndex: g, min: xMin, max: xMax, position: 'bottom',
      minInterval: 24 * HOUR_MS, maxInterval: 24 * HOUR_MS,
      axisLine: { show: false },
      axisTick: { show: true, inside: true, length: 6, lineStyle: { color: BOX } },
      axisLabel: { show: g === 2, formatter: dayLabel, margin: 5, ...tickLabel },
      splitLine: { show: true, lineStyle: { color: GRID_LINE, width: 1 } },
    });
  });
  [0, 1, 2].forEach((g) => {
    xAxes.push({
      type: 'time', gridIndex: g, min: xMin, max: xMax, position: 'top',
      minInterval: 24 * HOUR_MS, maxInterval: 24 * HOUR_MS,
      axisLine: { show: false },
      axisTick: { show: true, inside: true, length: 6, lineStyle: { color: BOX } },
      axisLabel: { show: false },
      splitLine: { show: false },
    });
  });

  const leftAxis = (g: number, min: number, max: number, interval: number) => ({
    type: 'value', gridIndex: g, min, max, interval, position: 'left',
    axisLine: { show: false },
    axisTick: { show: true, inside: true, length: 5, lineStyle: { color: BOX } },
    axisLabel: { margin: 4, ...tickLabel },
    splitLine: { show: true, lineStyle: { color: GRID_LINE, width: 1 } },
  });
  const mirrorAxis = (g: number, min: number, max: number, interval: number) => ({
    type: 'value', gridIndex: g, min, max, interval, position: 'right',
    axisLine: { show: false },
    axisTick: { show: true, inside: true, length: 5, lineStyle: { color: BOX } },
    axisLabel: { show: false },
    splitLine: { show: false },
  });

  const yAxes: any[] = [
    leftAxis(0, -30, 30, 5), // 0 CO2
    {
      type: 'value', gridIndex: 0, min: -12, max: 12, interval: 2, position: 'right',
      axisLine: { show: false },
      axisTick: { show: true, inside: true, length: 5, lineStyle: { color: BOX } },
      axisLabel: { margin: 4, formatter: (v: number) => (v >= 0 ? String(v) : ''), ...tickLabel },
      splitLine: { show: false },
    }, // 1 wind
    {
      type: 'value', gridIndex: 0, min: -36, max: 36, interval: 6, position: 'right', offset: 58,
      axisLine: { show: true, lineStyle: { color: '#ff3b3b', width: 1 } },
      axisTick: { show: true, inside: true, length: 5, lineStyle: { color: '#ff3b3b' } },
      axisLabel: { margin: 4, formatter: (v: number) => (v <= 0 ? String(v) : ''), ...tickLabel, color: '#ff0000' },
      splitLine: { show: false },
    }, // 2 temperature
    leftAxis(1, -120, 80, 20), // 3
    mirrorAxis(1, -120, 80, 20), // 4
    leftAxis(2, -30, 15, 5), // 5
    mirrorAxis(2, -30, 15, 5), // 6
  ];

  const bands = (xi: number, yi: number) => ({
    type: 'custom', xAxisIndex: xi, yAxisIndex: yi, z: -1, silent: true,
    data: DAY_BANDS.map(([a, b]) => [t(a), t(b)]),
    encode: { x: [0, 1] },
    renderItem: (params: any, api: any) => {
      const s = api.coord([api.value(0), 0]);
      const e = api.coord([api.value(1), 0]);
      const cs = params.coordSys;
      return { type: 'rect', shape: { x: s[0], y: cs.y, width: e[0] - s[0], height: cs.height }, style: { fill: BAND_FILL } };
    },
  });
  const zeroLine = (xi: number, yi: number) => ({
    type: 'line', xAxisIndex: xi, yAxisIndex: yi, z: 1, silent: true, symbol: 'none',
    data: [[xMin, 0], [xMax, 0]],
    lineStyle: { color: '#7c7c7c', width: 1.6 },
  });
  const line = (xi: number, yi: number, data: any[], color: string, width = 1, z = 3) => ({
    type: 'line', xAxisIndex: xi, yAxisIndex: yi, z, symbol: 'none', showSymbol: false,
    connectNulls: false, data: pairs(data), lineStyle: { color, width }, silent: true,
  });
  const scatter = (xi: number, yi: number, data: any[], color: string, size: number, z = 4) => ({
    type: 'scatter', xAxisIndex: xi, yAxisIndex: yi, z, symbol: 'circle', symbolSize: size,
    data: pairs(data), itemStyle: { color, opacity: 1 }, silent: true,
  });

  const series: any[] = [
    bands(0, 0), zeroLine(0, 0),
    {
      type: 'custom', xAxisIndex: 0, yAxisIndex: 0, z: 3, silent: true,
      data: GREEN_PERIODS.map(([a, b]) => [t(a), t(b)]),
      encode: { x: [0, 1] },
      renderItem: (params: any, api: any) => {
        const p1 = api.coord([api.value(0), GREEN_TOP]);
        const p2 = api.coord([api.value(1), GREEN_BOTTOM]);
        return { type: 'rect', shape: { x: p1[0], y: p1[1], width: p2[0] - p1[0], height: p2[1] - p1[1] }, style: { fill: '#00ff00', stroke: '#2a2a2a', lineWidth: 0.8 } };
      },
    },
    {
      type: 'custom', xAxisIndex: 0, yAxisIndex: 0, z: 3, silent: true,
      data: WIND_DIR.map(([h, a, b]) => [t(h), a, b]),
      encode: { x: 0, y: 2 },
      renderItem: (params: any, api: any) => {
        const p = api.coord([api.value(0), api.value(2)]);
        const a = (api.value(1) * Math.PI) / 180;
        const L = 10;
        return { type: 'line', shape: { x1: p[0], y1: p[1], x2: p[0] + L * Math.sin(a), y2: p[1] - L * Math.cos(a) }, style: { stroke: '#333333', lineWidth: 0.8 } };
      },
    },
    line(0, 2, TEMP, '#ff1a1a', 1),
    line(0, 1, WIND_SPEED, '#000000', 1),
    scatter(0, 0, CO2_FLUX, '#0000ff', 4),
    {
      type: 'scatter', xAxisIndex: 0, yAxisIndex: 0, z: 5, symbol: 'diamond', symbolSize: 9, silent: true,
      data: pairs(CO2_FLAGGED), itemStyle: { color: '#ff00ff', borderColor: '#7a007a', borderWidth: 0.8 },
    },
    bands(1, 3), zeroLine(1, 3),
    line(1, 3, R_SW, '#ff4a4a', 1),
    line(1, 3, R_LW, '#4a4aff', 1),
    line(1, 3, R_NET, '#3a3a3a', 0.9, 4),
    bands(2, 5), zeroLine(2, 5),
    scatter(2, 5, Q_SENS, '#ff7f0e', 3.8),
    scatter(2, 5, Q_LAT, '#22aac8', 3.8, 5),
  ];

  const blue = '#0000ff';
  const red = '#ff0000';
  const black = '#111111';
  const orange = '#ff7f0e';
  const teal = '#22aac8';

  const graphic: any[] = [
    plainText(437.5, 17, 'ICEI', 12),
    plainText(437, 638, 'Time', 13),
    plainText(62, 191, 'A', 20, 'left'),
    plainText(62, 394, 'B', 20, 'left'),
    plainText(62, 600, 'C', 20, 'left'),
    plainText(805, 39, 'N', 14),
    { type: 'line', silent: true, shape: { x1: 805.5, y1: 70, x2: 805.5, y2: 52 }, style: { stroke: '#000', lineWidth: 2 } },
    { type: 'polygon', silent: true, shape: { points: [[805.5, 45], [801.5, 54], [809.5, 54]] }, style: { fill: '#000' } },
    rotText(22, 119, '{b|CO}{bs|2}{b|-Flux [mmol m}{bp|-2}{b|d}{bp|-1}{b|]}', {
      b: rs(blue, 11, 'middle'), bs: rs(blue, 8, 'bottom'), bp: rs(blue, 8, 'top'),
    }),
    rotText(19, 320, '{r|R}{rs|n}{rp|SW}{k|, }{u|R}{us|n}{up|LW}{k| & R}{ks|NET}{k|  [Wm}{kp|-2}{k|]}', {
      r: rs(red, 11, 'middle'), rs: rs(red, 8, 'bottom'), rp: rs(red, 8, 'top'),
      u: rs(blue, 11, 'middle'), us: rs(blue, 8, 'bottom'), up: rs(blue, 8, 'top'),
      k: rs(black, 11, 'middle'), ks: rs(black, 8, 'bottom'), kp: rs(black, 8, 'top'),
    }),
    rotText(23, 528, '{o|Q}{os|SENS}{k| & }{c|Q}{cs|LAT}{k|  [Wm}{kp|-2}{k|]}', {
      o: rs(orange, 11, 'middle'), os: rs(orange, 8, 'bottom'),
      c: rs(teal, 11, 'middle'), cs: rs(teal, 8, 'bottom'),
      k: rs(black, 11, 'middle'), kp: rs(black, 8, 'top'),
    }),
    rotText(847, 119, '{k|Wind-speed [ms}{kp|-1}{k|]}', {
      k: rs(black, 11, 'middle'), kp: rs(black, 8, 'top'),
    }),
    rotText(904, 119, '{r|T}{rp|HMP}{r| [}{rp|°}{r| C]}', {
      r: rs(red, 12, 'middle'), rp: rs(red, 8, 'top'),
    }),
  ];

  return {
    animation: false,
    useUTC: true,
    backgroundColor: '#ffffff',
    textStyle: { fontFamily: FONT },
    grid: [
      { left: 56, width: 763, top: 31, height: 176, show: true, borderColor: BOX, borderWidth: 1, backgroundColor: 'transparent' },
      { left: 56, width: 763, top: 235, height: 177, show: true, borderColor: BOX, borderWidth: 1, backgroundColor: 'transparent' },
      { left: 56, width: 763, top: 440, height: 177, show: true, borderColor: BOX, borderWidth: 1, backgroundColor: 'transparent' },
    ],
    xAxis: xAxes,
    yAxis: yAxes,
    series,
    graphic,
  };
}

export default function App() {
  const ref = useRef<HTMLDivElement>(null);
  useEffect(() => {
    if (!ref.current) return;
    const chart = echarts.init(ref.current, undefined, { renderer: 'svg' });
    chart.setOption(buildOption() as any);
    return () => chart.dispose();
  }, []);
  return <div ref={ref} style={{ position: 'absolute', left: 0, top: 0, width: 912, height: 644 }} />;
}
